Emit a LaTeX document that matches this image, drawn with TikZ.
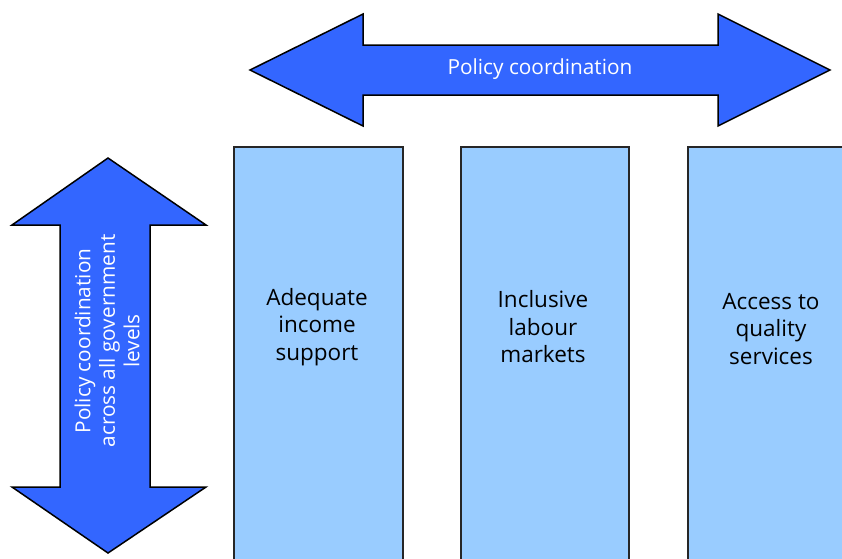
\documentclass[tikz,border=0pt]{standalone}
\usepackage{fontspec}
\setmainfont{Open Sans}
\begin{document}
\begin{tikzpicture}[x=1pt,y=-1pt,
  arrowshape/.style={fill=arrowblue,draw=black,line width=1.5pt,line join=miter},
  pillar/.style={rectangle,fill=boxblue,draw=black!85,line width=1.5pt,anchor=north west,inner sep=0pt},
  pillartext/.style={align=center,font=\fontsize{22.5}{27.5}\selectfont,text=black},
  arrowtext/.style={align=center,font=\fontsize{20.8}{24.5}\selectfont,text=white}]
\definecolor{arrowblue}{HTML}{3366FF}
\definecolor{boxblue}{HTML}{99CCFF}
\useasboundingbox (0,0) rectangle (842,558);
\clip (0,0) rectangle (842,558);
% horizontal double arrow
\draw[arrowshape] (250,70) -- (363,14) -- (363,45) -- (718,45) -- (718,14) -- (830,70)
  -- (718,126) -- (718,95) -- (363,95) -- (363,126) -- cycle;
\node[arrowtext] (htext) at (540,69) {Policy coordination};
% vertical double arrow
\draw[arrowshape] (108,158) -- (206,225) -- (150,225) -- (150,487) -- (206,487) -- (108,553)
  -- (12,487) -- (60,487) -- (60,225) -- (12,225) -- cycle;
\node[arrowtext,rotate=90] (vtext) at (107,341) {Policy coordination\\across all government\\levels};
% pillars
\node[pillar,minimum width=169pt,minimum height=430pt] (p1) at (233,146) {};
\node[pillar,minimum width=168pt,minimum height=430pt] (p2) at (460,146) {};
\node[pillar,minimum width=170pt,minimum height=430pt] (p3) at (687,146) {};
\node[pillartext] (t1) at (317,327) {Adequate\\income\\support};
\node[pillartext] (t2) at (543,327) {Inclusive\\labour\\markets};
\node[pillartext] (t3) at (771,329) {Access to\\quality\\services};
\end{tikzpicture}
\end{document}
